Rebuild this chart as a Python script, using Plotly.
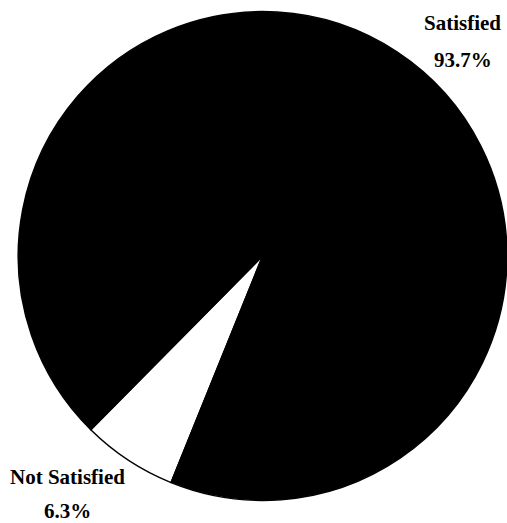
import plotly.graph_objects as go

# slice data
labels = ["Not Satisfied", "Satisfied"]
values = [6.3, 93.7]
colors = ["#ffffff", "#000000"]

# caption centres (paper coords): name line and percent line
label_x = [0.134, 0.913]
name_y = [0.088, 0.956]
pct_y = [0.022, 0.885]

fig = go.Figure()
fig.add_trace(go.Pie(
    labels=labels,
    values=values,
    sort=False,
    direction="clockwise",
    rotation=202,
    marker=dict(colors=colors, line=dict(color="#000000", width=1.5)),
    textinfo="none",
    hoverinfo="label+percent",
    showlegend=False,
    domain=dict(x=[0.036, 1.0], y=[0.042, 0.979]),
))

font = dict(family="Liberation Serif, Times New Roman, serif", size=21, color="#000000")
for name, v, x, y1, y2 in zip(labels, values, label_x, name_y, pct_y):
    fig.add_annotation(x=x, y=y1, xref="paper", yref="paper",
                       text="<b>%s</b>" % name, showarrow=False, font=font,
                       xanchor="center", yanchor="middle")
    fig.add_annotation(x=x, y=y2, xref="paper", yref="paper",
                       text="<b>%.1f%%</b>" % v, showarrow=False, font=font,
                       xanchor="center", yanchor="middle")

fig.update_layout(
    width=507, height=523,
    margin=dict(l=0, r=0, t=0, b=0),
    paper_bgcolor="#ffffff",
    plot_bgcolor="#ffffff",
)

# page body has a default 8px margin; drop it so the figure fills the window
fig.write_html("out.html", config={"displayModeBar": False},
               post_script="document.body.style.margin='0';")
